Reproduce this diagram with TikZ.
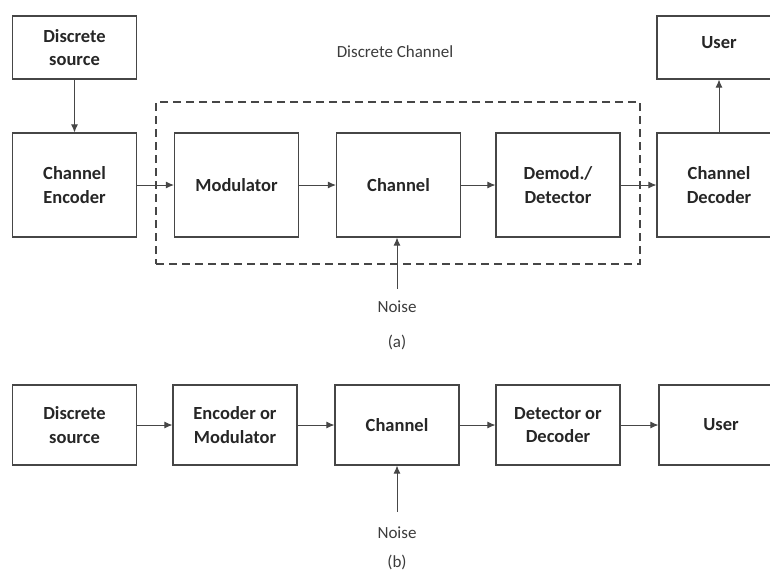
\documentclass[tikz,border=0pt]{standalone}
\usepackage{fontspec}
\usepackage{xcolor}
\usepackage{tikz}
\setmainfont{Carlito}
\usetikzlibrary{arrows.meta, positioning, calc}
\definecolor{linegray}{RGB}{70, 70, 70}
\definecolor{textgray}{RGB}{60, 60, 60}
\tikzset{
    blockbox/.style={draw=linegray, line width=1.1pt, minimum width=124pt, align=center,
        font=\fontsize{18.5}{23.5}\selectfont\bfseries, text=black!85, inner sep=0pt},
    flowarrow/.style={draw=linegray, line width=1pt, -{Latex[length=8pt,width=7pt]}},
    plainlabel/.style={font=\fontsize{17}{20}\selectfont, text=textgray, inner sep=1pt}
}

\begin{document}
\begin{tikzpicture}[x=1pt, y=-1pt]
        \useasboundingbox (0,0) rectangle (770,574);
        % (a)
        \node[blockbox, minimum height=63pt] (srca) at (74.5,47.5) {Discrete\\source};
        \node[blockbox, minimum height=63pt] (usera) at (719,47.5) {\raisebox{10pt}{User}};
        \node[blockbox, minimum height=104pt] (enca) at (74.5,185) {Channel\\Encoder};
        \node[blockbox, minimum height=104pt] (moda) at (236.5,185) {Modulator};
        \node[blockbox, minimum height=104pt] (chana) at (398.5,185) {Channel};
        \node[blockbox, minimum height=104pt] (demoda) at (558,185) {Demod./\\Detector};
        \node[blockbox, minimum height=104pt] (deca) at (719,185) {Channel\\Decoder};
        \node[draw=linegray, line width=1.1pt, dash pattern=on 8pt off 5pt,
            minimum width=484pt, minimum height=162pt] (dchan) at (398,183) {};
        \node[plainlabel] (dchanlabel) at (395,52) {Discrete Channel};
        \node[plainlabel] (noisea) at (397,307) {Noise};
        \node[plainlabel] (capa) at (397,342) {(a)};
        \draw[flowarrow] (srca) -- (enca);
        \draw[flowarrow] (enca) -- (moda);
        \draw[flowarrow] (moda) -- (chana);
        \draw[flowarrow] (chana) -- (demoda);
        \draw[flowarrow] (demoda) -- (deca);
        \draw[flowarrow] (deca) -- (usera);
        \draw[flowarrow, shorten <=11pt] (noisea.north) -- (noisea.north |- chana.south);
        % (b)
        \node[blockbox, minimum height=80pt] (srcb) at (74.5,425) {Discrete\\source};
        \node[blockbox, minimum height=80pt] (encb) at (235,425) {Encoder or\\Modulator};
        \node[blockbox, minimum height=80pt] (chanb) at (397,425) {Channel};
        \node[blockbox, minimum height=80pt] (detb) at (558,425) {Detector or\\Decoder};
        \node[blockbox, minimum height=80pt] (userb) at (721,425) {User};
        \node[plainlabel] (noiseb) at (397,533) {Noise};
        \node[plainlabel] (capb) at (397,562) {(b)};
        \draw[flowarrow] (srcb) -- (encb);
        \draw[flowarrow] (encb) -- (chanb);
        \draw[flowarrow] (chanb) -- (detb);
        \draw[flowarrow] (detb) -- (userb);
        \draw[flowarrow, shorten <=14pt] (noiseb.north) -- (noiseb.north |- chanb.south);
    \end{tikzpicture}
\end{document}
